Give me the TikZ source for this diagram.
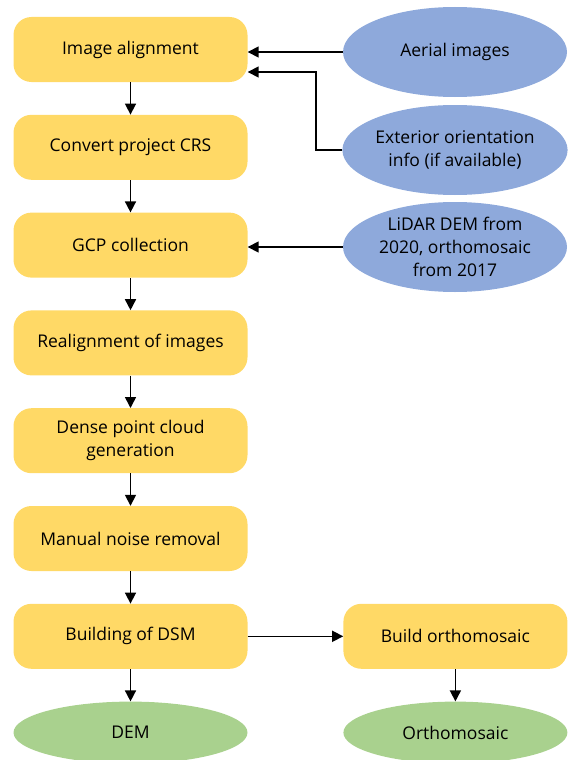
\documentclass[tikz,border=0pt]{standalone}
\usepackage{fontspec}
\setmainfont{Open Sans}
\usepackage{tikz}
\usetikzlibrary{positioning, arrows.meta, shapes.geometric}
\usepackage{xcolor}
\definecolor{stepYellow}{RGB}{255, 217, 102}
\definecolor{inputBlue}{RGB}{142, 169, 219}
\definecolor{outputGreen}{RGB}{169, 209, 142}

\begin{document}
\begin{tikzpicture}[x=1pt, y=-1pt, >={Triangle[length=11pt, width=11pt]},
  font=\fontsize{17.5}{23}\selectfont, node distance=32.4pt,
  procbox/.style={rectangle, rounded corners=18pt, fill=stepYellow, minimum width=234pt, minimum height=65pt, align=center, inner sep=0pt},
  inblob/.style={ellipse, fill=inputBlue, minimum width=224pt, minimum height=90pt, align=center, inner sep=0pt},
  outblob/.style={ellipse, fill=outputGreen, minimum height=62pt, align=center, inner sep=0pt},
  link/.style={->, line width=1.6pt}]
  \useasboundingbox (0,0) rectangle (569,760);

  % Processing steps
  \node[procbox] (align) at (130.5,49.5) {Image alignment};
  \node[procbox, below=of align] (crs) {Convert project CRS};
  \node[procbox, below=of crs] (gcp) {GCP collection};
  \node[procbox, below=of gcp] (realign) {Realignment of images};
  \node[procbox, below=of realign] (dense) {Dense point cloud\\generation};
  \node[procbox, below=of dense] (noise) {Manual noise removal};
  \node[procbox, below=of noise] (dsm) {Building of DSM};
  \node[procbox, minimum width=224pt, right=95.5pt of dsm] (build) {Build orthomosaic};

  % Inputs
  \node[inblob] (aerial) at (455,52) {Aerial images};
  \node[inblob] (exterior) at (455,150) {Exterior orientation\\info (if available)};
  \node[inblob] (lidar) at (455,247) {LiDAR DEM from\\2020, orthomosaic\\from 2017};

  % Outputs
  \node[outblob, minimum width=234pt, below=of dsm] (dem) {DEM};
  \node[outblob, minimum width=224pt, below=of build] (orthomosaic) {Orthomosaic};

  % Flow
  \foreach \a/\b in {align/crs, crs/gcp, gcp/realign, realign/dense, dense/noise, noise/dsm, dsm/dem, dsm/build, build/orthomosaic}
    \draw[link] (\a) -- (\b);

  \coordinate (extin) at ([yshift=-22.5pt]align.east);
  \draw[link] (aerial.west) -- (aerial.west -| align.east);
  \draw[link] (exterior.west) -- ++(-26,0) |- (extin);
  \draw[link] (lidar.west) -- (lidar.west -| gcp.east);
\end{tikzpicture}
\end{document}
